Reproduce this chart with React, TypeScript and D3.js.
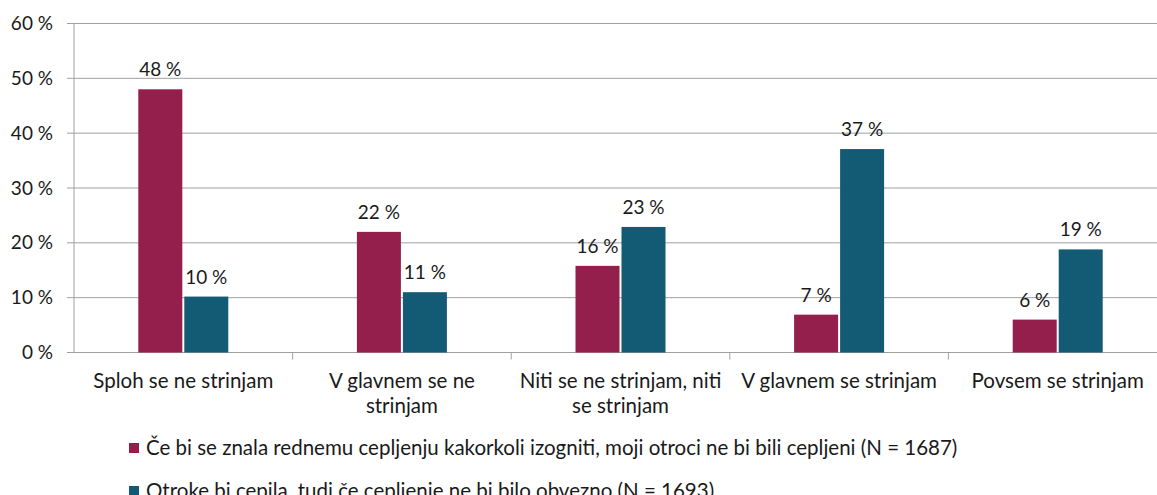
import React from "react";
import * as d3 from "d3";

const categories = [
  "Sploh se ne strinjam",
  "V glavnem se ne\nstrinjam",
  "Niti se ne strinjam, niti\nse strinjam",
  "V glavnem se strinjam",
  "Povsem se strinjam",
];
const seriesNames = [
  "Če bi se znala rednemu cepljenju kakorkoli izogniti, moji otroci ne bi bili cepljeni (N = 1687)",
  "Otroke bi cepila, tudi če cepljenje ne bi bilo obvezno (N = 1693)",
];
const seriesA = [48, 22, 15.8, 6.9, 6.0];
const seriesB = [10.2, 11.0, 22.9, 37.1, 18.8];
const labelsA = ["48 %", "22 %", "16 %", "7 %", "6 %"];
const labelsB = ["10 %", "11 %", "23 %", "37 %", "19 %"];
const yTicks = [0, 10, 20, 30, 40, 50, 60];
const colors = ["#951F4C", "#135B74"];

const W = 1157;
const H = 495;
const FONT = "Lato, 'Open Sans', sans-serif";
const TXT = "#1a1a1a";
const NUM = 19;
const TEXT = 20.5;

export default function App() {
  const left = 74;
  const right = 74 + 5 * 218.6;
  const top = 23.5;
  const bottom = 352.5;
  const x = d3.scaleBand<string>().domain(categories).range([left, right]);
  const y = d3.scaleLinear().domain([0, 60]).range([bottom, top]);
  const barW = 44;
  const gap = 2;
  const series = [seriesA, seriesB];
  const labels = [labelsA, labelsB];

  return (
    <svg
      width={W}
      height={H}
      style={{ position: "absolute", left: 0, top: 0, background: "#fff" }}
      fontFamily={FONT}
    >
      {yTicks.map((t) => (
        <g key={t}>
          <line x1={left - 7} x2={W} y1={y(t)} y2={y(t)} stroke="#a0a0a0" strokeWidth={1} />
          <text x={53} y={y(t)} dy="0.35em" textAnchor="end" fontSize={NUM} fill={TXT}>
            {t} %
          </text>
        </g>
      ))}
      <line x1={left} x2={left} y1={top} y2={bottom} stroke="#a0a0a0" />
      {categories.map((c, i) => (
        <line key={"t" + i} x1={x(c)! + x.bandwidth()} x2={x(c)! + x.bandwidth()} y1={bottom} y2={bottom + 7} stroke="#a0a0a0" />
      ))}
      {categories.map((c, i) => {
        const cx = x(c)! + x.bandwidth() / 2;
        return (
          <g key={c}>
            {series.map((s, si) => {
              const bx = si === 0 ? cx - gap / 2 - barW : cx + gap / 2;
              return (
                <g key={si}>
                  <rect x={bx} y={y(s[i])} width={barW} height={bottom - y(s[i])} fill={colors[si]} />
                  <text x={bx + barW / 2} y={y(s[i]) - 13} textAnchor="middle" fontSize={NUM} fill={TXT}>
                    {labels[si][i]}
                  </text>
                </g>
              );
            })}
            {c.split("\n").map((line, li) => (
              <text key={li} x={cx} y={388 + li * 25} textAnchor="middle" fontSize={TEXT} fill={TXT}>
                {line}
              </text>
            ))}
          </g>
        );
      })}
      {seriesNames.map((n, i) => (
        <g key={n}>
          <rect x={129} y={448 + i * 43 - 5} width={10} height={10} fill={colors[i]} />
          <text x={146} y={448 + i * 43} dy="0.35em" fontSize={TEXT} fill={TXT}>
            {n}
          </text>
        </g>
      ))}
    </svg>
  );
}
